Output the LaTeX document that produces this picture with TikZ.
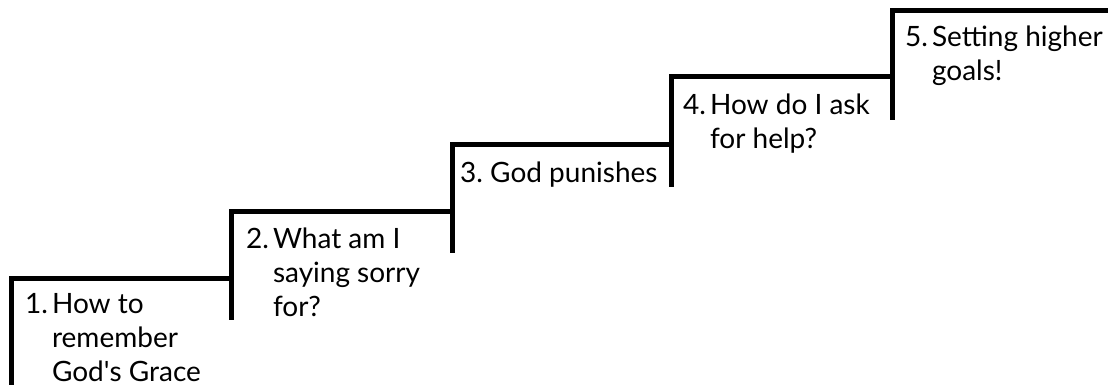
\documentclass[tikz,border=0pt]{standalone}
\usepackage{fontspec}
\setmainfont{Lato}
\frenchspacing
\begin{document}
\begin{tikzpicture}[x=1pt,y=-1pt,
  stair/.style={line width=5pt, draw=black},
  lbl/.style={anchor=base west, inner sep=0pt, font=\fontsize{28}{34}\selectfont}]
\useasboundingbox (0,0) rectangle (1108,385);
% staircase
\coordinate (b0) at (11,385);
\coordinate (c1) at (11,278);
\coordinate (e1) at (231,278);
\coordinate (c2) at (231,211);
\coordinate (e2) at (452,211);
\coordinate (c3) at (452,145);
\coordinate (e3) at (671,145);
\coordinate (c4) at (671,77);
\coordinate (e4) at (892,77);
\coordinate (c5) at (892,11);
\coordinate (e5) at (1108,11);
\coordinate (d1) at (231,320);
\coordinate (d2) at (452,253);
\coordinate (d3) at (671,187);
\coordinate (d4) at (892,120);
\draw[stair] (b0) -- (c1) -- (e1) -- (c2) -- (e2) -- (c3) -- (e3) -- (c4) -- (e4) -- (c5) -- (e5);
\draw[stair] (e1) -- (d1);
\draw[stair] (e2) -- (d2);
\draw[stair] (e3) -- (d3);
\draw[stair] (e4) -- (d4);
% labels
\node[lbl] (s1) at (25,313) {\begin{tabular}[t]{@{}l@{\hspace{4pt}}l@{}}1.&How to\\&remember\\&God\textquotesingle s Grace\end{tabular}};
\node[lbl] (s2) at (246,248) {\begin{tabular}[t]{@{}l@{\hspace{4pt}}l@{}}2.&What am I\\&saying sorry\\&for?\end{tabular}};
\node[lbl] (s3) at (460,182) {3. God punishes};
\node[lbl] (s4) at (683,115) {\begin{tabular}[t]{@{}l@{\hspace{4pt}}l@{}}4.&How do I ask\\&for help?\end{tabular}};
\node[lbl] (s5) at (905,47) {\begin{tabular}[t]{@{}l@{\hspace{4pt}}l@{}}5.&Setting higher\\&goals!\end{tabular}};
\end{tikzpicture}
\end{document}
